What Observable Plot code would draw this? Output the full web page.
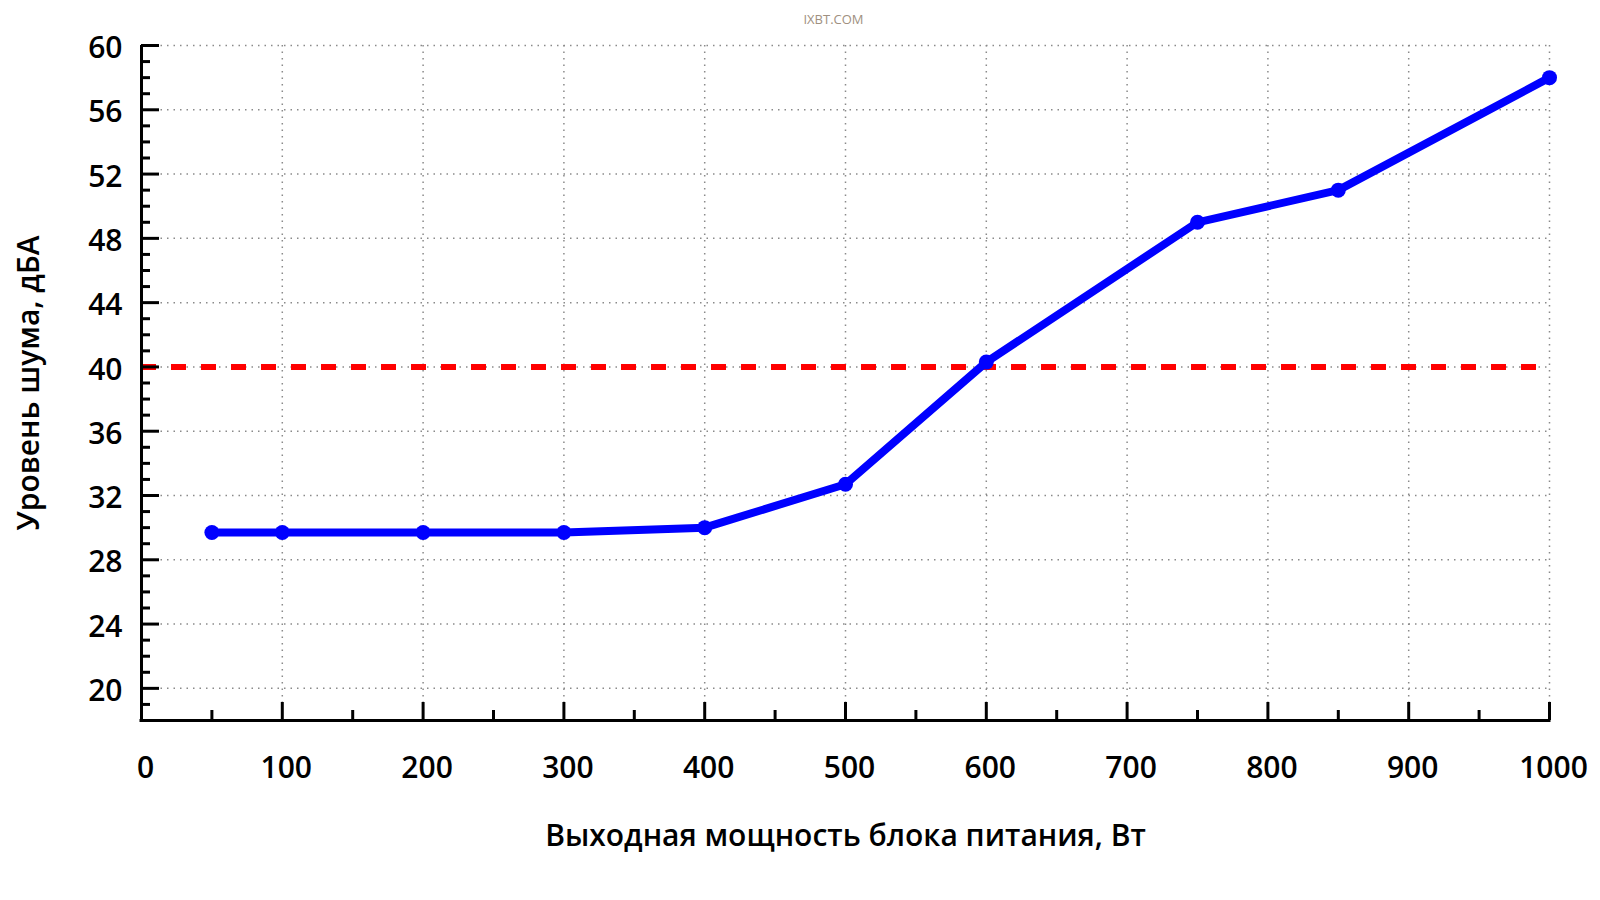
<!DOCTYPE html>
<html>
<head>
<meta charset="utf-8">
<script src="https://cdn.jsdelivr.net/npm/d3@7"></script>
<script src="https://cdn.jsdelivr.net/npm/@observablehq/plot@0.6"></script>
<style>
  html, body { margin: 0; padding: 0; background: #fff; }
  #chart svg { display: block; }
</style>
</head>
<body>
<div id="chart"></div>
<script>
// Data
const power = [50, 100, 200, 300, 400, 500, 600, 750, 850, 1000];      // W
const noise = [29.7, 29.7, 29.7, 29.7, 30.0, 32.7, 40.3, 49.0, 51.0, 58.0]; // dBA
const noiseLimit = [40];
const xMajorTicks = [0, 100, 200, 300, 400, 500, 600, 700, 800, 900, 1000];
const xMinorTicks = [50, 150, 250, 350, 450, 550, 650, 750, 850, 950];
const yMajorTicks = [20, 24, 28, 32, 36, 40, 44, 48, 52, 56, 60];
const yMinorTicks = d3.range(19, 60).filter(v => v % 4 !== 0);
const xTitle = "Выходная мощность блока питания, Вт";
const yTitle = "Уровень шума, дБА";
const watermark = "IXBT.COM";

const W = 1600, H = 900;
const mL = 141, mR = 51, mT = 45, mB = 180;
const frameW = W - mL - mR, frameH = H - mT - mB;

const rows = power.map((p, i) => ({p, n: noise[i]}));
const font = "'Open Sans', sans-serif";
const grid = {stroke: "#8a8a8a", strokeOpacity: 1, strokeWidth: 1.5, strokeDasharray: "1.5,5"};

const chart = Plot.plot({
  width: W, height: H,
  marginLeft: mL, marginRight: mR, marginTop: mT, marginBottom: mB,
  style: {fontFamily: font, fontSize: "30px", fontWeight: 600, color: "#000", background: "#fff"},
  x: {domain: [0, 1000]},
  y: {domain: [18, 60]},
  marks: [
    Plot.gridY(yMajorTicks, grid),
    Plot.gridX(xMajorTicks.filter(v => v > 0), grid),
    Plot.ruleY(noiseLimit, {stroke: "#ff0000", strokeWidth: 6, strokeDasharray: "15,15"}),
    Plot.line(rows, {x: "p", y: "n", stroke: "#0000ff", strokeWidth: 8, strokeLinejoin: "round"}),
    Plot.dot(rows, {x: "p", y: "n", r: 7.5, fill: "#0000ff"}),
    // axis lines
    Plot.ruleX([0], {stroke: "#000", strokeWidth: 3}),
    Plot.ruleY([18], {stroke: "#000", strokeWidth: 3, strokeLinecap: "square"}),
    // inward ticks
    Plot.tickY(yMajorTicks, {y: d => d, stroke: "#000", strokeWidth: 3, insetRight: frameW - 18}),
    Plot.tickY(yMinorTicks, {y: d => d, stroke: "#000", strokeWidth: 3, insetRight: frameW - 9}),
    Plot.tickX(xMajorTicks, {x: d => d, stroke: "#000", strokeWidth: 3, insetTop: frameH - 18}),
    Plot.tickX(xMinorTicks, {x: d => d, stroke: "#000", strokeWidth: 3, insetTop: frameH - 10}),
    // tick labels
    Plot.axisY({ticks: yMajorTicks, tickFormat: d => String(d), tickSize: 0, tickPadding: 19, dy: 3, label: null, fontSize: 30}),
    Plot.axisX({ticks: xMajorTicks, tickFormat: d => String(d), tickSize: 0, tickPadding: 36, dx: 4, label: null, fontSize: 30}),
    // titles
    Plot.text([xTitle], {text: d => d, frameAnchor: "bottom", dy: 125, fontSize: 30}),
    Plot.text([yTitle], {text: d => d, frameAnchor: "left", textAnchor: "middle", rotate: -90, dx: -112, fontSize: 30}),
    Plot.text([watermark], {text: d => d, frameAnchor: "top", dx: -12, dy: -31, fontSize: 13, fontWeight: 400, fill: "#a09080"})
  ]
});
document.getElementById("chart").appendChild(chart);
</script>
</body>
</html>
